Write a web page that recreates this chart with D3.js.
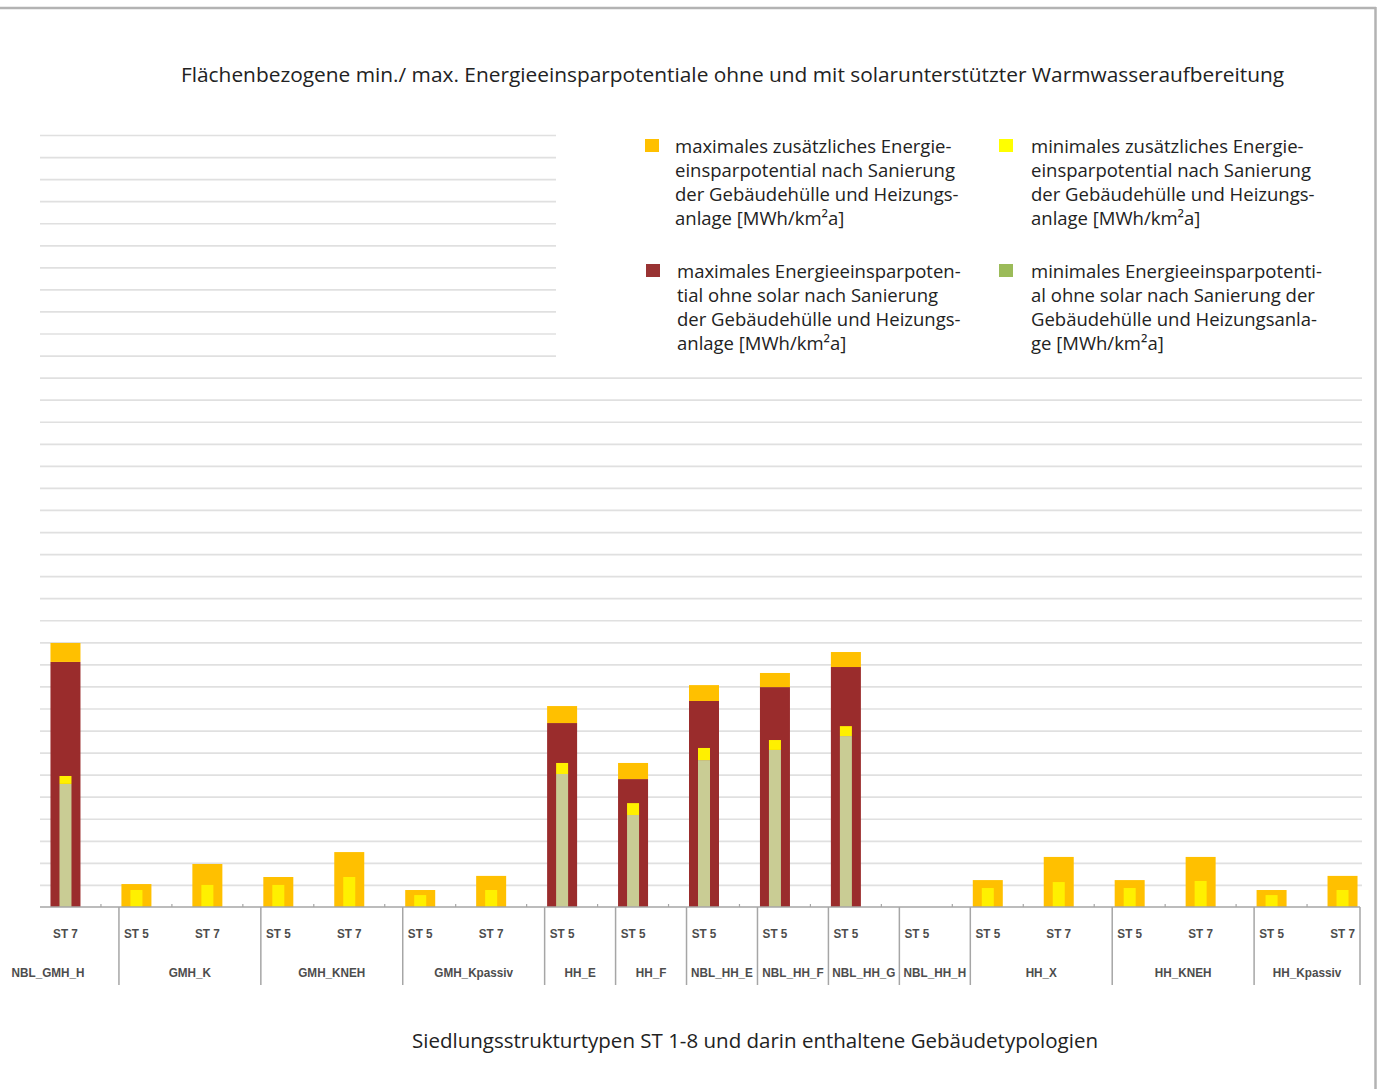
<!DOCTYPE html>
<html>
<head>
<meta charset="utf-8">
<script src="https://cdn.jsdelivr.net/npm/d3@7"></script>
<style>
  html, body { margin: 0; padding: 0; background: #fff; }
  svg { display: block; }
</style>
</head>
<body>
<svg id="chart" width="1380" height="1089"></svg>
<script>
// Settlement structure type of each column
const categories = ["ST 7", "ST 5", "ST 7", "ST 5", "ST 7", "ST 5", "ST 7", "ST 5", "ST 5", "ST 5",
                    "ST 5", "ST 5", "ST 5", "ST 5", "ST 7", "ST 5", "ST 7", "ST 5", "ST 7"];
// Building typology each column belongs to
const groups = ["NBL_GMH_H", "GMH_K", "GMH_K", "GMH_KNEH", "GMH_KNEH", "GMH_Kpassiv", "GMH_Kpassiv",
                "HH_E", "HH_F", "NBL_HH_E", "NBL_HH_F", "NBL_HH_G", "NBL_HH_H",
                "HH_X", "HH_X", "HH_KNEH", "HH_KNEH", "HH_Kpassiv", "HH_Kpassiv"];

// Savings potentials (wide bar: max, narrow bar: min)
const maxOhneSolar   = [111.1, 0, 0, 0, 0, 0, 0, 83.4, 58.0, 93.4, 99.7, 108.8, 0, 0, 0, 0, 0, 0, 0];
const maxZusaetzlich = [8.6, 10.4, 19.5, 13.6, 24.9, 7.7, 14.1, 7.7, 7.3, 7.2, 6.4, 6.8, 0, 12.2, 22.7, 12.2, 22.7, 7.7, 14.1];
const minOhneSolar   = [55.8, 0, 0, 0, 0, 0, 0, 60.3, 41.7, 66.6, 71.2, 77.5, 0, 0, 0, 0, 0, 0, 0];
const minZusaetzlich = [3.6, 7.7, 10.0, 10.0, 13.6, 5.4, 7.7, 5.0, 5.4, 5.5, 4.5, 4.5, 0, 8.6, 11.3, 8.6, 11.8, 5.4, 7.7];

// Horizontal grid values
const yTicks = d3.range(10, 351, 10);

const legendEntries = [
  { color: "#FFC000", col: 0, row: 0, lines: ["maximales zusätzliches Energie-", "einsparpotential nach Sanierung", "der Gebäudehülle und Heizungs-", "anlage [MWh/km²a]"] },
  { color: "#FFFF00", col: 1, row: 0, lines: ["minimales zusätzliches Energie-", "einsparpotential nach Sanierung", "der Gebäudehülle und Heizungs-", "anlage [MWh/km²a]"] },
  { color: "#993333", col: 0, row: 1, lines: ["maximales Energieeinsparpoten-", "tial ohne solar nach Sanierung", "der Gebäudehülle und Heizungs-", "anlage [MWh/km²a]"] },
  { color: "#9BBB59", col: 1, row: 1, lines: ["minimales Energieeinsparpotenti-", "al ohne solar nach Sanierung der", "Gebäudehülle und Heizungsanla-", "ge [MWh/km²a]"] }
];

const titleText = "Flächenbezogene min./ max. Energieeinsparpotentiale ohne und mit solarunterstützter Warmwasseraufbereitung";
const xTitleText = "Siedlungsstrukturtypen ST 1-8 und darin enthaltene Gebäudetypologien";

const colors = { maxOhne: "#9A2C2C", maxZus: "#FFC000", minOhne: "#C9CC94", minZus: "#FFF000" };

const svg = d3.select("#chart");
const textFont = "'Open Sans', 'Noto Sans', sans-serif";
const tickFont = "'Liberation Sans', Arial, sans-serif";

// measure a string at 100px
function measure(text, family, weight) {
  const t = svg.append("text").attr("font-family", family).attr("font-size", 100)
    .attr("font-weight", weight || "normal").text(text);
  const w = t.node().getComputedTextLength();
  t.remove();
  return w;
}
// font size that makes a string span the given width
function fitSize(text, width, family, weight) {
  return 100 * width / measure(text, family, weight);
}

// layout
const baseY = 907, topY = 135;
const gridLeft = 40, gridRight = 1362, axisRight = 1360;

const x = d3.scaleBand().domain(d3.range(categories.length)).range([30, 1378]).padding(0);
const y = d3.scaleLinear().domain([0, 350]).range([baseY, topY]);
const step = x.step();
const wideW = 30, narrowW = 12;
const sepOffset = 18;

// frame
svg.append("line").attr("x1", 0).attr("x2", 1376).attr("y1", 8).attr("y2", 8)
  .attr("stroke", "#b3b3b3").attr("stroke-width", 2.5);
svg.append("line").attr("x1", 1375.5).attr("x2", 1375.5).attr("y1", 7).attr("y2", 1089)
  .attr("stroke", "#b3b3b3").attr("stroke-width", 2.5);

// grid
const grid = svg.append("g")
  .attr("transform", `translate(${gridLeft},0)`)
  .call(d3.axisLeft(y).tickValues(yTicks).tickSize(-(gridRight - gridLeft)).tickFormat(""));
grid.select(".domain").remove();
grid.selectAll(".tick line").attr("stroke", "#e0e0e0").attr("stroke-width", 1.7)
  .attr("x1", 0).attr("x2", gridRight - gridLeft);

// title
svg.append("text").attr("x", 181).attr("y", 82)
  .attr("font-family", textFont).attr("font-size", fitSize(titleText, 1104, textFont))
  .attr("fill", "#222").text(titleText);

// legend panel sits over the upper grid lines
svg.append("rect").attr("x", 556).attr("y", 122).attr("width", 812).attr("height", 244).attr("fill", "#fff");

const legendSize = fitSize("einsparpotential nach Sanierung", 280, textFont);
const legendColX = [645, 999], legendTextX = [675, 1031], legendRowY = [139, 264];
const lg = svg.append("g");
legendEntries.forEach(e => {
  const sx = legendColX[e.col] + (e.row === 1 && e.col === 0 ? 1 : 0);
  lg.append("rect").attr("x", sx).attr("y", legendRowY[e.row]).attr("width", 14).attr("height", 13).attr("fill", e.color);
  const tx = legendTextX[e.col] + (e.row === 1 && e.col === 0 ? 2 : 0);
  const t = lg.append("text").attr("font-family", textFont).attr("font-size", legendSize).attr("fill", "#222");
  e.lines.forEach((ln, i) => {
    t.append("tspan").attr("x", tx).attr("y", legendRowY[e.row] + 14 + i * 24).text(ln);
  });
});

// bars
const cols = d3.range(categories.length);
const bars = svg.append("g");
const cx = i => x(i) + step / 2;

bars.selectAll(".maxOhne").data(cols).join("rect")
  .attr("x", i => cx(i) - wideW / 2).attr("width", wideW)
  .attr("y", i => y(maxOhneSolar[i])).attr("height", i => y(0) - y(maxOhneSolar[i]))
  .attr("fill", colors.maxOhne);
bars.selectAll(".maxZus").data(cols).join("rect")
  .attr("x", i => cx(i) - wideW / 2).attr("width", wideW)
  .attr("y", i => y(maxOhneSolar[i] + maxZusaetzlich[i]))
  .attr("height", i => y(maxOhneSolar[i]) - y(maxOhneSolar[i] + maxZusaetzlich[i]))
  .attr("fill", colors.maxZus);
bars.selectAll(".minOhne").data(cols).join("rect")
  .attr("x", i => cx(i) - narrowW / 2).attr("width", narrowW)
  .attr("y", i => y(minOhneSolar[i])).attr("height", i => y(0) - y(minOhneSolar[i]))
  .attr("fill", colors.minOhne);
bars.selectAll(".minZus").data(cols).join("rect")
  .attr("x", i => cx(i) - narrowW / 2).attr("width", narrowW)
  .attr("y", i => y(minOhneSolar[i] + minZusaetzlich[i]))
  .attr("height", i => y(minOhneSolar[i]) - y(minOhneSolar[i] + minZusaetzlich[i]))
  .attr("fill", colors.minZus);

// category axis
const axisG = svg.append("g");
axisG.append("line").attr("x1", gridLeft).attr("x2", axisRight).attr("y1", baseY).attr("y2", baseY)
  .attr("stroke", "#a6a6a6").attr("stroke-width", 1.5);
axisG.selectAll(".tk").data(d3.range(1, categories.length)).join("line")
  .attr("x1", i => x(i)).attr("x2", i => x(i)).attr("y1", baseY).attr("y2", baseY - 3)
  .attr("stroke", "#a6a6a6").attr("stroke-width", 1.2);

// narrow, heavy axis labels
const tickFs = 12.5, tickWeight = "bold";
const tickSX = 73 / (measure("NBL_GMH_H", tickFont, tickWeight) * tickFs / 100);
function axisLabel(xPos, yPos, txt) {
  axisG.append("g").attr("transform", `translate(${xPos},${yPos}) scale(${tickSX},1)`)
    .append("text").attr("text-anchor", "middle")
    .attr("font-family", tickFont).attr("font-size", tickFs).attr("font-weight", tickWeight)
    .attr("fill", "#4d4d4d").text(txt);
}
cols.forEach(i => axisLabel(cx(i), 938, categories[i]));

// typology groups
const groupRuns = [];
groups.forEach((g, i) => {
  const last = groupRuns[groupRuns.length - 1];
  if (last && last.name === g) last.end = i; else groupRuns.push({ name: g, start: i, end: i });
});
const sepX = i => x(i) + sepOffset;
groupRuns.forEach((g, gi) => {
  const right = gi === groupRuns.length - 1 ? axisRight : sepX(g.end + 1);
  const left = gi === 0 ? right - 2 * step : sepX(g.start);  // first typology runs past the left edge
  if (gi > 0) {
    axisG.append("line").attr("x1", left).attr("x2", left).attr("y1", baseY).attr("y2", 985)
      .attr("stroke", "#a6a6a6").attr("stroke-width", 1.5);
  }
  axisLabel((left + right) / 2, 977, g.name);
});
axisG.append("line").attr("x1", axisRight).attr("x2", axisRight).attr("y1", baseY).attr("y2", 985)
  .attr("stroke", "#a6a6a6").attr("stroke-width", 1.5);

// axis title
svg.append("text").attr("x", 412).attr("y", 1048)
  .attr("font-family", textFont).attr("font-size", fitSize(xTitleText, 686, textFont))
  .attr("fill", "#222").text(xTitleText);
</script>
</body>
</html>
